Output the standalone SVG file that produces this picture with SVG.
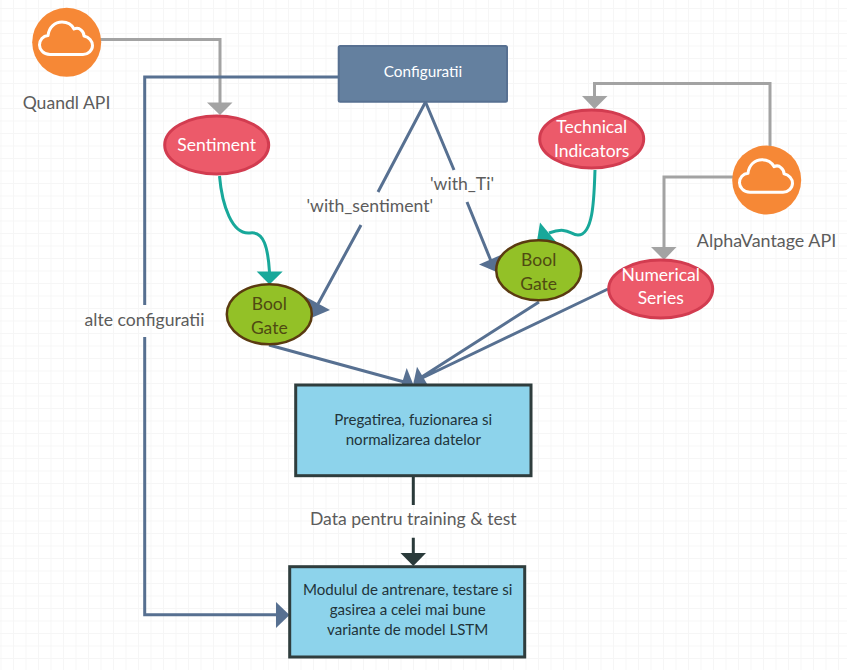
<svg xmlns="http://www.w3.org/2000/svg" width="847" height="670" viewBox="0 0 847 670">
<defs>
<style>
text{font-family:"Lato","Liberation Sans",sans-serif;text-anchor:middle}
.lbl{font-size:17.6px;fill:#5c5c5c}
.red{fill:#ec5a6a;stroke:#d23c50;stroke-width:3}
.rt{font-size:17.5px;fill:#fff}
.gate{fill:#93c127;stroke:#5a3a10;stroke-width:2.5}
.gt{font-size:17.5px;fill:#4f4a12}
.box{fill:#8dd3eb;stroke:#2f3d3d;stroke-width:3}
.bt{font-size:15.1px;fill:#22343a}
.g{fill:none;stroke:#a3a3a3;stroke-width:3}
.b{fill:none;stroke:#577091;stroke-width:3}
.t{fill:none;stroke:#18a89a;stroke-width:3}
.d{fill:none;stroke:#2a3a3a;stroke-width:3}
.ga{fill:#a3a3a3}.ba{fill:#577091}.ta{fill:#18a89a}.da{fill:#2a3a3a}
.grid{stroke:#f6f6f6;stroke-width:1;fill:none}
.cloud{fill:none;stroke:#fff;stroke-width:3;stroke-linejoin:round}
</style>
<pattern id="gr" x="0.5" y="8" width="12.5" height="12.5" patternUnits="userSpaceOnUse"><path class="grid" d="M.5 0V12.5M0 .5H12.5"/></pattern>
<path id="cl" d="M50,54.5 C43,54.5 39.5,49 39.5,45 C39.5,40 43,36 48,35.5 C49,27 55,22 62,22 C68,22 72,25 74,29 C76,28 79,28 81,30 C83,31.5 84,33 84,36 C89,37 92.5,41 92.5,45.5 C92.5,50.5 88,54.5 83,54.5 Z"/>
</defs>
<rect width="847" height="670" fill="#fff"/>
<rect width="847" height="670" fill="url(#gr)"/>
<g id="connectors">
<path class="g" d="M100 39.5H220V103"/><polygon class="ga" points="207,102.5 232.500,102.500 220,115"/>
<path class="g" d="M770 148V83.500H594.500V96"/><polygon class="ga" points="582,96 607.500,96 594.500,109"/>
<path class="g" d="M733 177H664V247"/><polygon class="ga" points="651,247 676.500,247 664,260"/>
<path class="b" d="M339 77H144.700V305M144.700 337V614.700H277"/><polygon class="ba" points="276,602 276,628 289.500,615"/>
<path class="b" d="M425.500 102L378 192M361 225L318 304"/><polygon class="ba" points="306,297 330,310 304,321"/>
<path class="b" d="M425.500 102L454 170M467 202L491 261"/><polygon class="ba" points="479,264.500 503,254 499,273"/>
<path class="t" d="M219.500 176C222 205 232 235 250 233C264 231 268 248 269.500 272"/><polygon class="ta" points="256.700,271.500 282.700,271.500 269.500,284.500"/>
<path class="t" d="M595 170C594 195 594 235 578 235C570 235 568 226 549 233"/><polygon class="ta" points="540,222.500 537,241 557,243"/>
<path class="b" d="M269 345L408 383"/><polygon class="ba" points="406.700,368 413.500,385 399,392.700"/>
<path class="b" d="M539 302L417 380M608 289L418 380"/><polygon class="ba" points="417,366.700 430,389 413,385"/>
<path class="d" d="M413.300 476V505M413.300 537.700V554"/><polygon class="da" points="400.500,553 426,553 413.300,566"/>
</g>
<g id="quandl"><circle cx="66.700" cy="42.300" r="34.500" fill="#f68836"/><use href="#cl" class="cloud"/><text class="lbl" x="66.500" y="109">Quandl API</text></g>
<g id="alpha"><circle cx="766.700" cy="180" r="34.500" fill="#f68836"/><use href="#cl" class="cloud" transform="translate(700 137.700)"/><text class="lbl" x="766.500" y="247" style="font-size:17.9px">AlphaVantage API</text></g>
<g id="configuratii"><rect x="338.700" y="46" width="168.300" height="55.700" rx="1.500" fill="#64809f" stroke="#577091" stroke-width="2"/><text x="423" y="77" font-size="15.300" fill="#fff">Configuratii</text></g>
<g id="sentiment"><ellipse class="red" cx="216.700" cy="145" rx="52" ry="29"/><text class="rt" x="216.700" y="151">Sentiment</text></g>
<g id="technical"><ellipse class="red" cx="591.700" cy="139" rx="52" ry="29"/><text class="rt" x="591.700" y="133">Technical</text><text class="rt" x="591.700" y="157">Indicators</text></g>
<g id="numerical"><ellipse class="red" cx="660.700" cy="289" rx="52" ry="29"/><text class="rt" x="660.700" y="281">Numerical</text><text class="rt" x="660.700" y="304">Series</text></g>
<g id="gate1"><ellipse class="gate" cx="269.300" cy="314.300" rx="42.500" ry="30"/><text class="gt" x="269.300" y="309.500">Bool</text><text class="gt" x="269.300" y="333.500">Gate</text></g>
<g id="gate2"><ellipse class="gate" cx="538.700" cy="270.300" rx="42.500" ry="30"/><text class="gt" x="538.700" y="265.500">Bool</text><text class="gt" x="538.700" y="289.500">Gate</text></g>
<g id="pregatire"><rect class="box" x="295.700" y="385" width="235.300" height="90.700"/><text class="bt" x="413.300" y="425">Pregatirea, fuzionarea si</text><text class="bt" x="413.300" y="445">normalizarea datelor</text></g>
<g id="modulul"><rect class="box" x="289.700" y="566.700" width="235" height="90.300"/><text class="bt" x="407.700" y="595">Modulul de antrenare, testare si</text><text class="bt" x="407.700" y="615">gasirea a celei mai bune</text><text class="bt" x="407.700" y="635">variante de model LSTM</text></g>
<g id="labels">
<text class="lbl" x="369.800" y="212">'with_sentiment'</text>
<text class="lbl" x="462" y="190">'with_Ti'</text>
<text class="lbl" x="144.500" y="326">alte configuratii</text>
<text class="lbl" x="413.300" y="525">Data pentru training &amp; test</text>
</g>
</svg>
